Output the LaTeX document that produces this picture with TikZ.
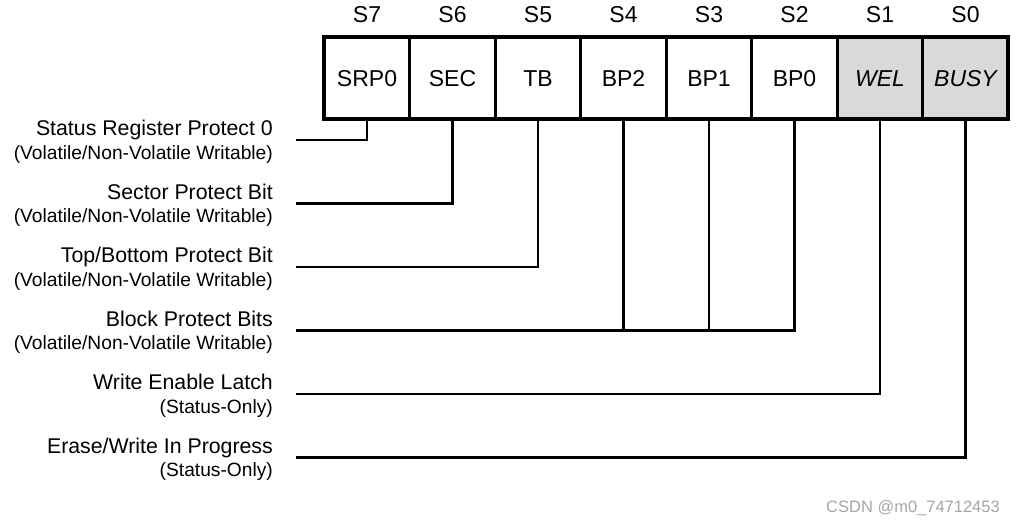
\documentclass[tikz,border=0pt]{standalone}
\usepackage{fontspec}
\setmainfont{Liberation Sans}

\newcommand{\bitfont}{\fontsize{23}{27}\selectfont}
\newcommand{\lblmain}{\fontsize{21.3}{25}\selectfont}
\newcommand{\lblsub}{\fontsize{19.2}{23}\selectfont}

\tikzset{
bitcell/.style={draw,line width=3pt,minimum width=85.5pt,minimum height=82pt,
  inner sep=0pt,outer sep=0pt,text height=16.5pt,text depth=0pt,font=\bitfont},
statcell/.style={bitcell,fill=black!15,font=\bitfont\itshape},
bitname/.style={anchor=base,font=\bitfont,inner sep=0pt},
fieldname/.style={anchor=base east,font=\lblmain,inner sep=0pt},
fieldnote/.style={anchor=base east,font=\lblsub,inner sep=0pt},
wire/.style={line width=2.1pt}
}

\begin{document}
\begin{tikzpicture}[x=1pt,y=-1pt]

\useasboundingbox (0,0) rectangle (1016,523);

%=================================================
% STATUS REGISTER
%=================================================

% bit cells

\foreach \i/\nm/\txt in {7/srp/SRP0,6/sec/SEC,5/tb/TB,4/bptwo/BP2,3/bpone/BP1,2/bpzero/BP0}
{
\node[bitcell] (\nm)
at ({367+(7-\i)*85.5},78)
{\txt};
}

\node[statcell] (wel)
at (880,78)
{WEL};

\node[statcell] (busy)
at (965.5,78)
{BUSY};

% bit numbers

\foreach \i in {0,...,7}
{
\node[bitname] (hd\i)
at ({367+(7-\i)*85.5},22)
{S\i};
}

% outer frame

\draw[line width=4pt]
(srp.north west) rectangle (busy.south east);

%=================================================
% FIELD LABELS
%=================================================

% Status register protect

\coordinate (wsrp) at (296,140);

\draw[wire]
(srp.south) |- (wsrp);

\node[fieldname] (nsrp)
at (273,135.5)
{Status Register Protect 0};

\node[fieldnote] (vsrp)
at (273,159)
{(Volatile/Non-Volatile Writable)};

% Sector protect

\coordinate (wsec) at (296,203.5);

\draw[wire]
(sec.south) |- (wsec);

\node[fieldname] (nsec)
at (273,199)
{Sector Protect Bit};

\node[fieldnote] (vsec)
at (273,222.5)
{(Volatile/Non-Volatile Writable)};

% Top/bottom protect

\coordinate (wtb) at (296,267);

\draw[wire]
(tb.south) |- (wtb);

\node[fieldname] (ntb)
at (273,262.5)
{Top/Bottom Protect Bit};

\node[fieldnote] (vtb)
at (273,286)
{(Volatile/Non-Volatile Writable)};

% Block protect

\coordinate (wbp) at (296,330.5);

\draw[wire]
(bpzero.south) |- (wbp);

\draw[wire]
(bpone.south) -- (bpone.south |- wbp);

\draw[wire]
(bptwo.south) -- (bptwo.south |- wbp);

\node[fieldname] (nbp)
at (273,326)
{Block Protect Bits};

\node[fieldnote] (vbp)
at (273,349.5)
{(Volatile/Non-Volatile Writable)};

% Write enable latch

\coordinate (wwel) at (296,394);

\draw[wire]
(wel.south) |- (wwel);

\node[fieldname] (nwel)
at (273,389.5)
{Write Enable Latch};

\node[fieldnote] (vwel)
at (273,413)
{(Status-Only)};

% Busy

\coordinate (wbusy) at (296,457.5);

\draw[wire]
(busy.south) |- (wbusy);

\node[fieldname] (nbusy)
at (273,453)
{Erase/Write In Progress};

\node[fieldnote] (vbusy)
at (273,476.5)
{(Status-Only)};

% watermark

\node[anchor=base east,font=\fontsize{16.5}{19}\selectfont,text=black!35,inner sep=0pt] (mark)
at (1000,512)
{CSDN @m0\_74712453};

\end{tikzpicture}
\end{document}
